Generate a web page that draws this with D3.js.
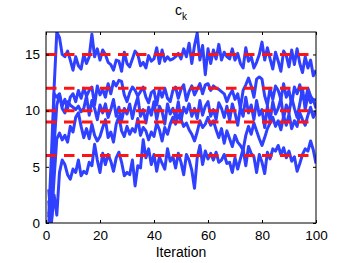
<!DOCTYPE html>
<html>
<head>
<meta charset="utf-8">
<script src="https://cdn.jsdelivr.net/npm/d3@7"></script>
<style>
  body { margin: 0; background: #fff; }
  text { font-family: "Liberation Sans", Arial, sans-serif; fill: #000; }
</style>
</head>
<body>
<svg id="chart" width="349" height="263"></svg>
<script>
// true values (red dashed references)
const targets = [15, 12, 10, 9, 6];

// estimated traces c_k, iterations 1..100
const series1 = [0.5,6,12,17,16.5,15,14.8,15.3,14.5,13.6,14.8,14,13.7,15,14.2,14.8,16.8,14.8,15.5,14.5,
  15.4,15,14.3,14.1,13.6,14.5,14.4,13.5,15.2,14.2,13.9,14.6,15.3,15,14,14.3,13.8,14.9,14.4,14.6,
  15.6,14.2,15.4,14.4,14.8,14.5,14.6,14.8,15.1,14.6,15.5,14.8,16,14.2,15.8,16.9,14.5,15.8,13.2,15.5,
  14.2,15.4,14.6,15.9,14.5,15.2,14.8,14.6,15.5,14.5,15.1,14.2,13.8,15.6,14.4,14.8,13.8,14.3,15,16.1,
  14.5,15.6,14.6,13.7,15.2,14.4,13.5,15.3,14.9,13.9,15.4,14.1,15.5,14.2,13.4,14.8,13.8,14.5,13.1,13.6];
const series2 = [0,3,11.5,11.2,11.5,10.4,11,10.2,11.2,11.5,10.8,11.8,11.1,12,11.3,11.8,12.1,10.5,12.2,11.4,
  11.9,11.2,12.4,11.5,12.6,12.2,12.7,12.6,11.4,10.8,11.6,12.1,11.8,11.3,11.7,12.1,11.2,10.7,11.6,11.8,
  10.5,11.9,11.2,12,11.1,10.8,11.8,12.1,11.1,11.9,12.3,10.9,11.7,12.2,11.4,11.9,12.4,11.5,12.3,12.4,
  11.8,12.2,12,11.9,11.7,11.5,10.8,11.4,11.8,11,11.5,10.2,11.8,12.3,12.9,12.2,11.2,12.8,13,12.8,
  11.3,10.5,12,11,12.2,11.8,11,12.4,11.2,11.8,10.6,12.1,11.5,12.3,11.2,10.8,12,11.3,10.9,11];
const series3 = [2,0,7,10.5,11.4,10.2,9.8,10.8,10.5,10.3,10.1,10.4,9.9,10.2,11.3,9.6,10.9,10.2,9.2,10.5,
  9.8,10.6,9.4,10.1,11,9.5,10.3,9.1,10.2,9.7,10.6,9.3,10.4,11.2,9.5,10.1,8.9,10.3,9.6,10.8,
  9.2,10.4,9.9,8.8,10.6,9.7,10.2,9.4,10.8,9.1,10.3,9.8,10.6,9.5,10.2,9.3,10.9,9.6,10.4,10.8,
  9.5,10.1,9.2,10.7,10.2,9.4,10.4,9.1,10.6,9.8,8.7,10.3,9.5,11.2,9.8,10.5,9.2,10.9,9.6,10.1,
  8.5,10.4,9.1,10.8,9.7,10.2,11.1,9.3,10.5,9.8,11.2,10.2,9.4,10.6,12,10.1,11.4,10.7,11,10.2];
const series4 = [1,0.3,4,7.5,8,7.4,7.8,7.2,8.6,8.1,9.4,9.8,8.6,7.6,8.4,7.5,8.8,7.8,7.3,7.7,
  8.5,9.2,7.6,8.1,7.2,8.8,9.5,8.2,7.7,8.6,7.9,8.4,8.1,9.3,7.8,8.5,8.2,7.4,8.1,7.7,
  8.9,8.3,7.3,8.5,7.9,8.8,9.4,8.8,9.6,9.2,8.6,8.9,8.3,7.9,7.3,8.1,9.1,8.5,8.8,9.4,
  8.7,9.1,8.3,7.6,8.4,7.1,8.2,7.5,6.8,7.8,7.2,6.9,6.5,7.8,8.6,7.9,8.9,8.2,7.5,6.9,
  7.6,8.4,8.9,9.4,8.6,9.1,8.3,9.5,8.7,9.7,8.4,9.1,8.6,9.8,9.2,8.7,9.6,10.3,9.4,10];
const series5 = [3,0,2.5,0.7,4.5,5.6,5.2,4.3,3.9,4.8,4.5,5.6,4.2,4.6,4.4,5.4,5.1,7,5.6,4.5,
  6.2,5.2,6.1,5.5,4.6,5.8,6.3,5.4,4.2,4.5,4.3,5.6,3.3,5.1,4.9,7.4,5.8,6.6,5.2,6.1,
  4.6,5.9,5.3,4.8,6.6,5.5,5.9,4.9,6.2,5.4,4.3,6.1,5.6,4.7,3.1,5.8,6.9,5.2,6.4,5.7,
  6.2,5.6,6.3,5.4,5.6,6.1,5.3,5.4,4.5,5.8,4.8,5.7,6.6,5.1,6.8,6.2,5.9,4.5,6.1,5.4,
  4.4,6.3,5.7,6.6,6.4,6.9,6.1,6.7,5.8,6.4,5.5,5.9,4.6,5.3,6.1,6.6,6.4,7.3,6.5,5.3];
const allSeries = [series1, series2, series3, series4, series5];
const xTicks = [0, 20, 40, 60, 80, 100];
const yTicks = [0, 5, 10, 15];

const svg = d3.select("#chart");
const margin = {top: 32, right: 33, bottom: 40, left: 46};
const width = 349 - margin.left - margin.right;
const height = 263 - margin.top - margin.bottom;
const g = svg.append("g")
    .attr("transform", `translate(${margin.left}, ${margin.top})`);

const x = d3.scaleLinear().domain([0, 100]).range([0, width]);
const y = d3.scaleLinear().domain([0, 17]).range([height, 0]);

g.append("clipPath").attr("id", "clip")
  .append("rect").attr("width", width).attr("height", height);

const plot = g.append("g").attr("clip-path", "url(#clip)");

// blue traces
const line = d3.line()
    .x((d, i) => x(i + 1))
    .y(d => y(d));
plot.selectAll(".trace").data(allSeries)
  .enter().append("path")
    .attr("class", "trace")
    .attr("d", line)
    .attr("fill", "none")
    .attr("stroke", "#2f40ff")
    .attr("stroke-width", 3)
    .attr("stroke-linejoin", "round");

// red dashed references
plot.selectAll(".target").data(targets)
  .enter().append("line")
    .attr("x1", x(0)).attr("x2", x(100))
    .attr("y1", d => y(d)).attr("y2", d => y(d))
    .attr("stroke", "#ff1414")
    .attr("stroke-width", 3)
    .attr("stroke-dasharray", "10.5,7.5");

// axes, ticks inside (box on)
const tickLen = 3;
const axisStyle = sel => {
  sel.select(".domain").remove();
  sel.selectAll(".tick line").attr("stroke", "#000");
  sel.selectAll("text").style("font-size", "13.5px");
};
g.append("g").attr("transform", `translate(0, ${height})`)
  .call(d3.axisBottom(x).tickValues(xTicks).tickSizeInner(-tickLen).tickPadding(7))
  .call(axisStyle);
g.append("g")
  .call(d3.axisTop(x).tickValues(xTicks).tickSizeInner(-tickLen).tickFormat(""))
  .call(axisStyle);
g.append("g")
  .call(d3.axisLeft(y).tickValues(yTicks).tickSizeInner(-tickLen).tickPadding(6))
  .call(axisStyle);
g.append("g").attr("transform", `translate(${width}, 0)`)
  .call(d3.axisRight(y).tickValues(yTicks).tickSizeInner(-tickLen).tickFormat(""))
  .call(axisStyle);

g.append("rect")
    .attr("width", width).attr("height", height)
    .attr("fill", "none").attr("stroke", "#000").attr("stroke-width", 1);

// labels
const title = svg.append("text")
    .attr("x", margin.left + width / 2)
    .attr("y", 15)
    .attr("text-anchor", "middle")
    .style("font-size", "14px");
title.append("tspan").text("c");
title.append("tspan").attr("dy", 5).style("font-size", "10px").text("k");

svg.append("text")
    .attr("x", margin.left + width / 2)
    .attr("y", 257)
    .attr("text-anchor", "middle")
    .style("font-size", "14px")
    .text("Iteration");
</script>
</body>
</html>
